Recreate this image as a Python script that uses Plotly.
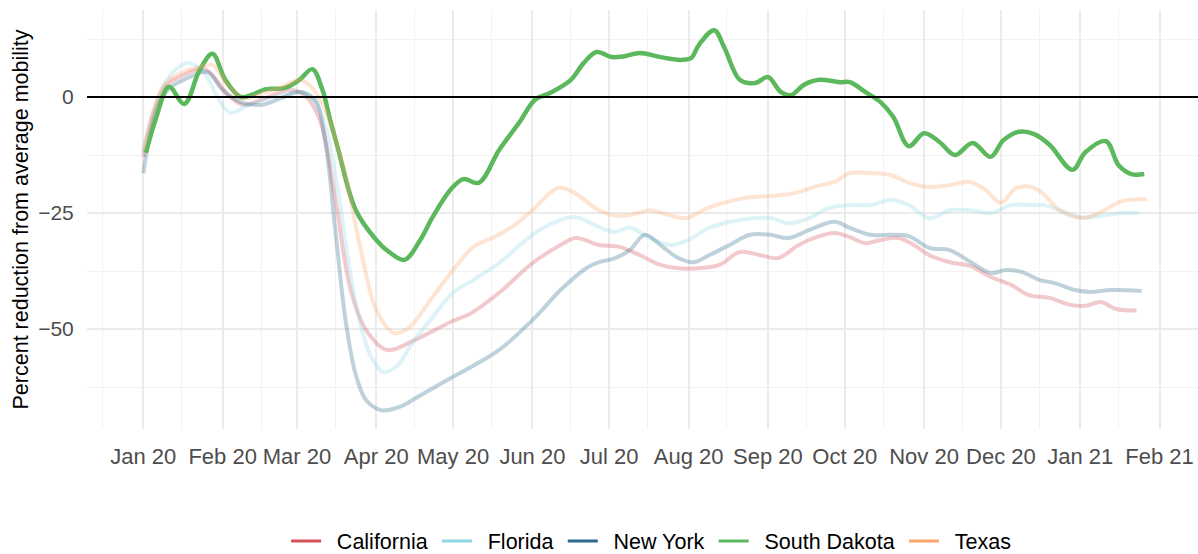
import pandas as pd
import plotly.graph_objects as go

# Days since 2020-01-01 and mobility values (percent)
ca_days = [0, 5, 9, 16, 24, 33, 39, 46, 57, 63, 69, 75, 81, 87, 95, 106, 120, 128, 139, 152, 163, 169, 178, 186, 194, 202, 209, 217, 225, 233, 241, 248, 256, 264, 270, 276, 282, 288, 295, 301, 307, 315, 323, 331, 339, 346, 354, 362, 368, 374, 380, 388]
ca_vals = [-12.9, -2, 2.5, 4.8, 6, 0.5, -1.7, -0.6, 1.5, 0.4, -5, -22, -41.6, -50.2, -54.5, -52.4, -48.5, -46.6, -42.2, -35.8, -31.9, -30.4, -31.9, -32.3, -34.1, -36.2, -36.9, -36.9, -36.2, -33.4, -34.1, -34.7, -31.9, -30.0, -29.3, -30.2, -31.5, -30.8, -30.4, -31.9, -34.1, -35.6, -36.4, -38.8, -40.5, -42.7, -43.3, -44.8, -45.0, -44.2, -45.7, -46.0]

fl_days = [0, 4, 9, 14, 18, 24, 29, 34, 40, 47, 55, 62, 67, 71, 76, 80, 84, 89, 94, 100, 104, 113, 121, 129, 139, 152, 163, 169, 178, 184, 190, 198, 206, 213, 221, 233, 245, 252, 260, 268, 276, 284, 292, 299, 307, 315, 323, 331, 339, 347, 352, 358, 366, 374, 382, 389]
fl_vals = [-12, -3, 3.5, 6.5, 7.3, 5, 0, -3.4, -2, -0.6, 0.5, 1.1, -1, -6, -20, -35, -47, -56, -59.3, -57.5, -53.9, -47.4, -42.2, -39.4, -35.8, -29.7, -26.5, -25.9, -28, -29.1, -28.2, -30.4, -31.9, -30.8, -28.2, -26.5, -26.1, -27.2, -26.1, -23.9, -23.3, -23.3, -22.2, -23.3, -26.1, -24.4, -24.4, -25.0, -23.3, -23.3, -23.3, -24.4, -25.9, -25.6, -25.0, -25.0]

ny_days = [0, 5, 10, 17, 25, 31, 38, 46, 54, 61, 67, 71, 75, 79, 83, 87, 93, 100, 107, 121, 128, 139, 152, 163, 173, 178, 184, 190, 196, 202, 209, 215, 221, 229, 237, 245, 252, 260, 270, 276, 284, 292, 299, 307, 315, 323, 331, 337, 343, 350, 356, 364, 370, 378, 390]
ny_vals = [-16.4, -3, 1.8, 4, 5.4, 1.5, -1.1, -1.7, -0.2, 1.1, -0.6, -9.3, -28.7, -48.1, -59.9, -65.3, -67.5, -66.8, -64.7, -60.3, -58.2, -54.5, -48.1, -41.6, -36.9, -35.6, -34.8, -33, -29.7, -31.9, -34.7, -35.6, -34.1, -31.9, -29.7, -29.7, -30.4, -28.7, -26.9, -28.2, -29.7, -29.7, -30, -32.5, -33.0, -35.5, -37.9, -37.3, -37.7, -39.4, -40.1, -41.6, -42.0, -41.6, -41.8]

sd_days = [1, 5, 10, 16, 22, 27, 32, 38, 42, 48, 55, 61, 66, 70, 73, 76, 83, 91, 96, 102, 108, 113, 120, 125, 131, 139, 147, 153, 159, 167, 172, 177, 183, 188, 194, 202, 210, 214, 217, 223, 227, 233, 239, 244, 249, 253, 258, 264, 272, 276, 282, 288, 293, 299, 305, 311, 317, 324, 331, 336, 342, 348, 354, 363, 368, 376, 381, 386, 391]
sd_vals = [-12, -4.5, 2.2, -1.5, 5.8, 9.3, 3.7, 0, 0.4, 1.7, 1.9, 3.7, 6.0, 1.5, -5, -11, -24.4, -30.8, -33.4, -35.1, -31, -25.9, -20, -17.7, -18.5, -11.4, -5.4, -0.6, 0.9, 3.7, 7.3, 9.7, 8.6, 8.8, 9.5, 8.6, 8.0, 8.4, 11.2, 14.4, 10.6, 3.7, 3.0, 4.3, 1.1, 0.4, 2.6, 3.7, 3.2, 3.2, 1.1, -1.1, -4.3, -10.6, -7.8, -9.7, -12.5, -9.9, -12.9, -9.3, -7.5, -8.0, -10.3, -15.7, -11.9, -9.5, -14.7, -16.6, -16.6]

tx_days = [0, 4, 8, 14, 21, 27, 33, 39, 45, 53, 61, 65, 70, 75, 79, 85, 91, 98, 104, 113, 121, 129, 137, 144, 152, 162, 168, 178, 185, 192, 198, 205, 212, 220, 228, 237, 248, 256, 263, 270, 276, 284, 292, 299, 307, 315, 323, 329, 335, 341, 347, 352, 358, 367, 375, 382, 392]
tx_vals = [-11.5, -3, 2.5, 5, 6.3, 6.9, 2.5, -0.3, 0.5, 1.9, 3.7, 2.5, -1.5, -9, -17, -33, -45.9, -50.9, -49.6, -43.1, -37.3, -32.3, -30.2, -28, -24.4, -19.6, -20.5, -24.4, -25.6, -25.2, -24.4, -25.4, -26.1, -24.0, -22.6, -21.6, -21.2, -20.5, -19.2, -18.3, -16.4, -16.4, -16.8, -18.5, -19.4, -19.0, -18.3, -20.0, -22.8, -19.6, -19.4, -21.1, -24.4, -26.1, -24.5, -22.5, -22.0]

states = ["California", "Florida", "New York", "South Dakota", "Texas"]
colors = ["#D4515A", "#8ED6E3", "#2B6A8C", "#5CB85C", "#FCA66E"]
faded = ["rgba(212,81,90,0.3)", "rgba(142,214,227,0.3)", "rgba(43,106,140,0.3)",
         "rgba(92,184,92,1)", "rgba(252,166,110,0.3)"]
widths = [4, 4, 4, 4.5, 4]
series = [(ca_days, ca_vals), (fl_days, fl_vals), (ny_days, ny_vals),
          (sd_days, sd_vals), (tx_days, tx_vals)]

start = pd.Timestamp("2020-01-01")

fig = go.Figure()
for name, (d, v), fc, w in zip(states, series, faded, widths):
    dates = start + pd.to_timedelta(d, unit="D")
    fig.add_trace(go.Scatter(x=dates, y=v, mode="lines", name=name,
                             line=dict(color=fc, width=w, shape="spline", smoothing=1.0),
                             showlegend=False, hoverinfo="skip"))
# Legend entries in full colour
for name, c in zip(states, colors):
    fig.add_trace(go.Scatter(x=[None], y=[None], mode="lines",
                             name="\u2002" + name + "\u2009",
                             line=dict(color=c, width=3)))

fig.add_hline(y=0, line_color="black", line_width=2)

fig.update_layout(
    width=1198, height=554,
    margin=dict(l=87, r=0, t=10, b=125),
    plot_bgcolor="white", paper_bgcolor="white",
    font=dict(family="Liberation Sans, Arial, sans-serif", size=21, color="#4D4D4D"),
    showlegend=True,
    legend=dict(orientation="h", xref="paper", x=0.51, xanchor="center",
                yref="container", y=0.0235, yanchor="middle",
                font=dict(size=21.5, color="black"), itemwidth=30),
    xaxis=dict(
        type="date", range=["2019-12-10", "2021-02-16"], automargin=False,
        tickmode="linear", tick0="2020-01-01", dtick="M1", tickformat="%b %y",
        showgrid=True, gridcolor="#EBEBEB", gridwidth=1.5,
        ticks="outside", ticklen=8, tickcolor="rgba(0,0,0,0)",
        minor=dict(dtick="M1", tick0="2019-12-16", showgrid=True, gridcolor="#F2F2F2", gridwidth=1),
        zeroline=False, showline=False,
        tickfont=dict(size=22, color="#4D4D4D"),
    ),
    yaxis=dict(
        range=[-71.55, 18.75], automargin=False,
        tickmode="linear", tick0=0, dtick=25,
        showgrid=True, gridcolor="#EBEBEB", gridwidth=1.5,
        minor=dict(dtick=12.5, tick0=0, showgrid=True, gridcolor="#F2F2F2", gridwidth=1),
        zeroline=False, showline=False,
        ticks="outside", ticklen=8, tickcolor="rgba(0,0,0,0)",
        tickfont=dict(size=21, color="#4D4D4D"),
        title=dict(text="Percent reduction from average mobility",
                   font=dict(size=21.5, color="black"), standoff=3),
    ),
)

fig.write_html("out.html", config={"displayModeBar": False},
               post_script="document.body.style.margin='0';document.body.style.overflow='hidden';")
